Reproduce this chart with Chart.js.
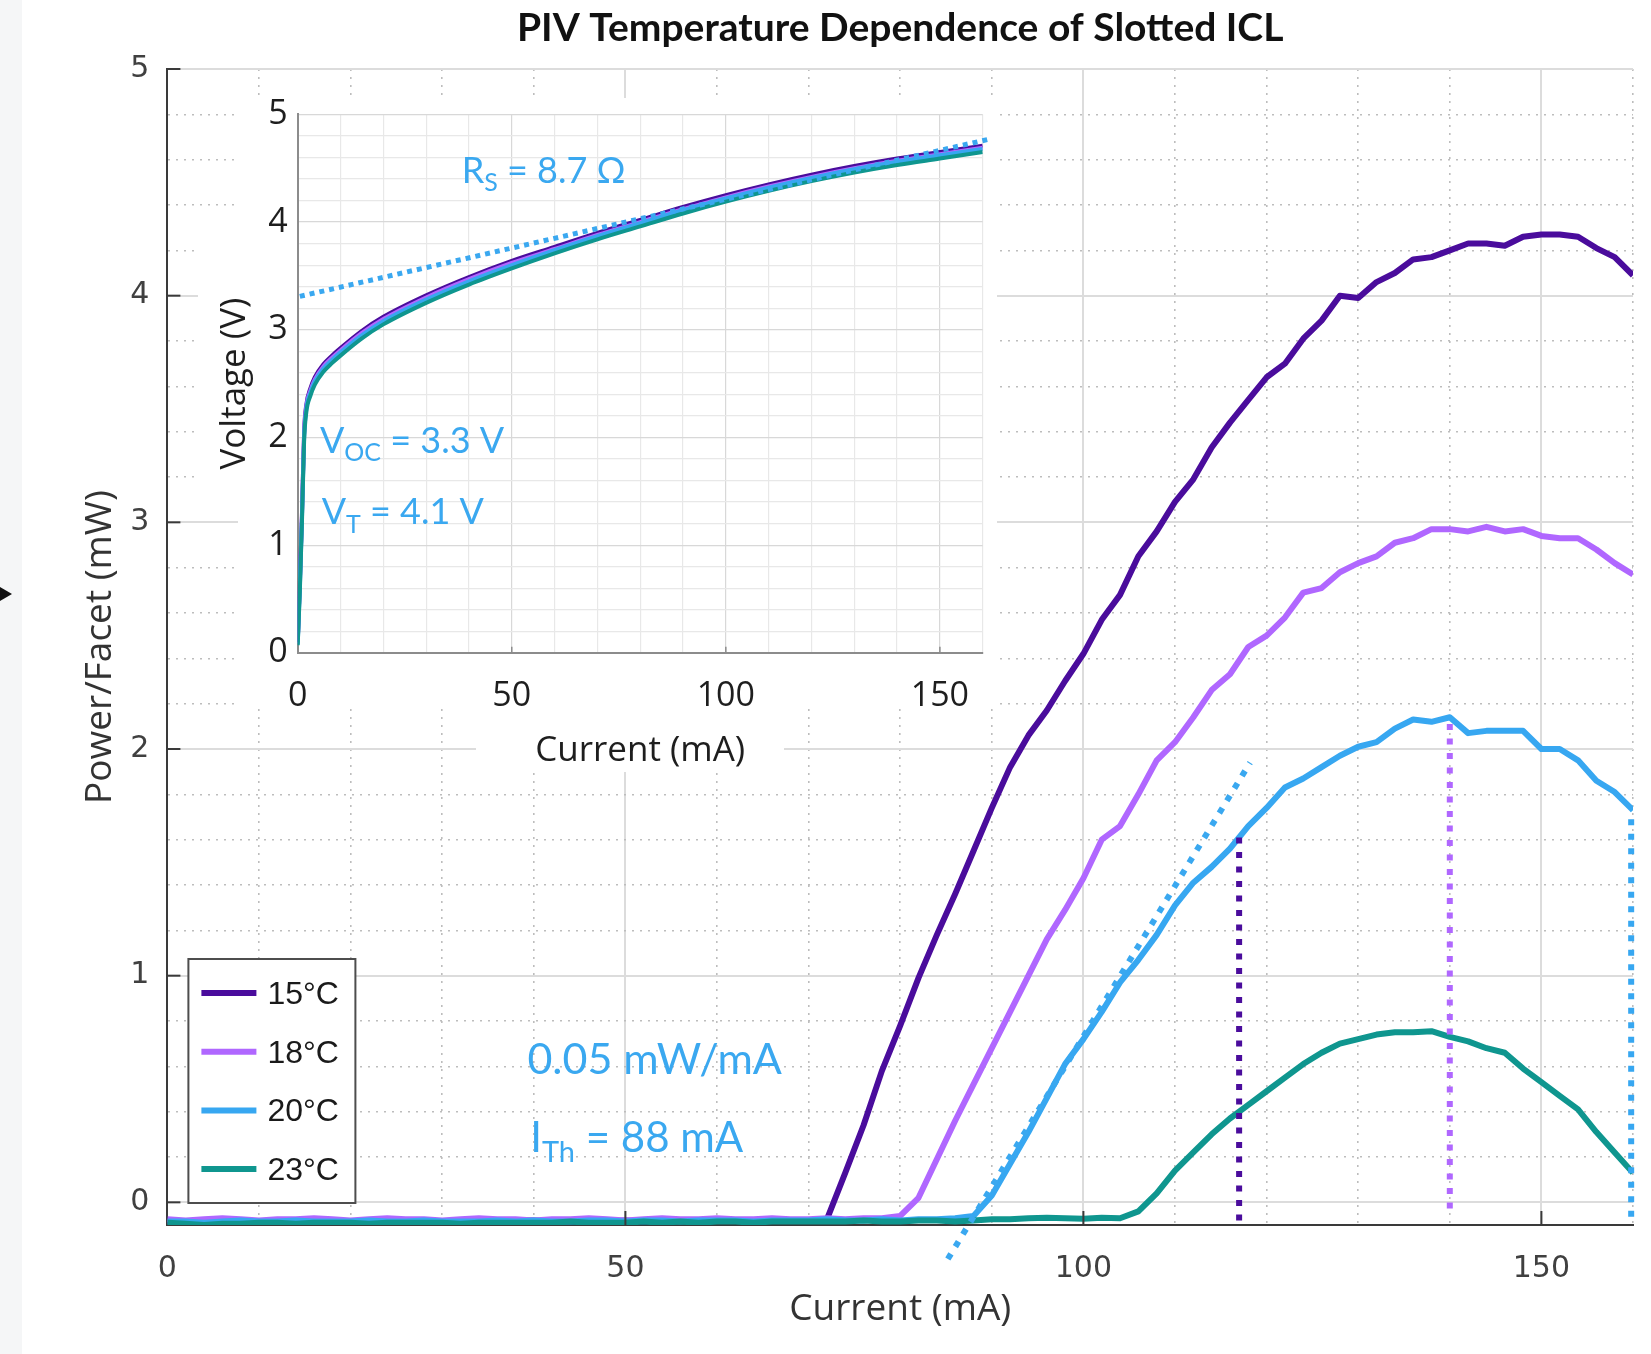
<!DOCTYPE html>
<html>
<head>
<meta charset="utf-8">
<script src="https://cdn.jsdelivr.net/npm/chart.js@4.4.1/dist/chart.umd.min.js"></script>
<style>
  html, body { margin: 0; padding: 0; background: #fff; }
  #wrap { position: relative; width: 1651px; height: 1354px; overflow: hidden; }
  #mainChart { position: absolute; left: 0; top: 0; }
  #insetChart { position: absolute; left: 190px; top: 90px; }
</style>
</head>
<body>
<div id="wrap">
  <canvas id="mainChart" width="1651" height="1354"></canvas>
  <canvas id="insetChart" width="820" height="690"></canvas>
</div>
<script>
// ---- main plot: power per facet vs current ----
const currentMA = [0,2,4,6,8,10,12,14,16,18,20,22,24,26,28,30,32,34,36,38,40,42,44,46,48,50,52,54,56,58,60,62,64,66,68,70,72,74,76,78,80,82,84,86,88,90,92,94,96,98,100,102,104,106,108,110,112,114,116,118,120,122,124,126,128,130,132,134,136,138,140,142,144,146,148,150,152,154,156,158,160];

const power15 = [
  -0.08,-0.085,-0.09,-0.085,-0.08,-0.085,-0.085,-0.08,-0.085,-0.09,
  -0.085,-0.08,-0.085,-0.085,-0.08,-0.085,-0.085,-0.09,-0.085,-0.08,
  -0.08,-0.085,-0.085,-0.08,-0.085,-0.08,-0.085,-0.08,-0.08,-0.085,
  -0.08,-0.08,-0.085,-0.08,-0.08,-0.08,
  -0.075,0.13,0.34,0.58,0.78,0.99,1.18,1.36,1.55,1.74,
  1.92,2.06,2.17,2.30,2.42,2.57,2.68,2.85,2.96,3.09,
  3.19,3.33,3.44,3.54,3.64,3.70,3.81,3.89,4.00,3.99,
  4.06,4.10,4.16,4.17,4.20,4.23,4.23,4.22,4.26,4.27,
  4.27,4.26,4.21,4.17,4.09
];
const power18 = [
  -0.075,-0.08,-0.075,-0.07,-0.075,-0.08,-0.075,-0.075,-0.07,-0.075,
  -0.08,-0.075,-0.07,-0.075,-0.075,-0.08,-0.075,-0.07,-0.075,-0.075,
  -0.08,-0.075,-0.075,-0.07,-0.075,-0.08,-0.075,-0.07,-0.075,-0.075,
  -0.07,-0.075,-0.075,-0.07,-0.075,-0.075,-0.07,-0.075,-0.07,-0.07,
  -0.06,0.02,0.19,0.36,0.52,0.68,0.84,1.00,1.16,1.29,
  1.43,1.60,1.66,1.80,1.95,2.03,2.14,2.26,2.33,2.45,
  2.50,2.58,2.69,2.71,2.78,2.82,2.85,2.91,2.93,2.97,
  2.97,2.96,2.98,2.96,2.97,2.94,2.93,2.93,2.88,2.82,
  2.77
];
const power20 = [
  -0.085,-0.085,-0.09,-0.085,-0.08,-0.085,-0.085,-0.08,-0.085,-0.085,
  -0.085,-0.08,-0.085,-0.085,-0.08,-0.085,-0.085,-0.085,-0.08,-0.085,
  -0.08,-0.085,-0.085,-0.08,-0.08,-0.085,-0.08,-0.08,-0.085,-0.08,
  -0.08,-0.08,-0.085,-0.08,-0.08,-0.08,-0.075,-0.08,-0.08,-0.075,
  -0.08,-0.075,-0.075,-0.07,
  -0.06,0.03,0.17,0.31,0.46,0.61,0.72,0.84,0.97,1.07,
  1.18,1.31,1.41,1.48,1.56,1.66,1.74,1.83,1.87,1.92,
  1.97,2.01,2.03,2.09,2.13,2.12,2.14,2.07,2.08,2.08,
  2.08,2.00,2.00,1.95,1.86,1.81,1.73
];
const power23 = [
  -0.09,-0.095,-0.1,-0.095,-0.095,-0.09,-0.09,-0.095,-0.09,-0.09,
  -0.09,-0.095,-0.09,-0.09,-0.09,-0.09,-0.095,-0.09,-0.09,-0.09,
  -0.09,-0.09,-0.085,-0.09,-0.09,-0.09,-0.085,-0.09,-0.085,-0.09,
  -0.085,-0.085,-0.09,-0.085,-0.085,-0.085,-0.085,-0.085,-0.08,-0.085,
  -0.085,-0.08,-0.08,-0.085,-0.08,-0.075,-0.075,-0.07,-0.068,-0.07,
  -0.072,-0.068,
  -0.07,-0.04,0.04,0.14,0.22,0.30,0.37,0.43,0.49,0.55,
  0.61,0.66,0.70,0.72,0.74,0.75,0.75,0.755,0.73,0.71,
  0.68,0.66,0.59,0.53,0.47,0.41,0.31,0.22,0.13
];

const tempLabels = ['15°C', '18°C', '20°C', '23°C'];
const seriesColors = ['#4a0c9c', '#b067ff', '#37a7f1', '#0f968f'];

// vertical dotted markers (current, top, bottom)
const markerCurrent = [117, 140, 159.8];
const markerTop = [1.61, 2.11, 1.69];
const markerBottom = [-0.1, -0.065, -0.08];
const markerColors = ['#4a0c9c', '#b067ff', '#37a7f1'];

// slope-efficiency fit line
const fitCurrent = [85.2, 118.2];
const fitPower = [-0.25, 1.94];

// ---- inset: voltage vs current ----
const ivCurrent = [0,0.5,1,1.5,2,3,4,6,8,10,15,20,30,40,50,60,70,80,90,100,110,120,130,140,150,160];
const volt15 = [0.10,0.66,1.30,2.06,2.30,2.46,2.56,2.68,2.76,2.83,2.99,3.12,3.32,3.49,3.64,3.77,3.90,4.02,4.14,4.25,4.35,4.44,4.52,4.59,4.65,4.71];
const volt18 = [0.09,0.63,1.27,2.03,2.28,2.44,2.54,2.66,2.74,2.81,2.97,3.10,3.30,3.47,3.62,3.75,3.88,4.00,4.12,4.23,4.33,4.42,4.50,4.57,4.63,4.69];
const volt20 = [0.08,0.60,1.25,2.00,2.26,2.42,2.52,2.64,2.72,2.79,2.95,3.08,3.28,3.45,3.60,3.74,3.87,3.99,4.11,4.22,4.32,4.41,4.49,4.56,4.62,4.68];
const volt23 = [0.07,0.57,1.22,1.97,2.23,2.39,2.49,2.61,2.69,2.76,2.92,3.05,3.25,3.42,3.57,3.71,3.84,3.96,4.08,4.19,4.29,4.38,4.46,4.53,4.59,4.65];

const rsCurrent = [0.5, 161.5];
const rsVolt = [3.31, 4.77];

const noteBlue = '#3aa8f0';

function pts(xs, ys) {
  return xs.map((x, i) => ({ x, y: ys[i] }));
}

function isMult(v, m) {
  return Math.abs(v / m - Math.round(v / m)) < 1e-6;
}

// fixed axis box sizes, no extra edge padding from tick labels
function fixBox(w, h) {
  return s => {
    if (w !== null) s.width = w;
    if (h !== null) s.height = h;
    s.paddingLeft = 0; s.paddingRight = 0; s.paddingTop = 0; s.paddingBottom = 0;
  };
}

// text with subscript parts: [[text, isSub], ...]
function subText(ctx, x, y, parts, size) {
  ctx.textAlign = "left";
  ctx.textBaseline = "alphabetic";
  parts.forEach(([t, sub]) => {
    ctx.font = `${sub ? Math.round(size * 0.7) : size}px Lato`;
    ctx.fillText(t, x, sub ? y + size * 0.24 : y);
    x += ctx.measureText(t).width;
  });
}

const mainDecor = {
  id: "mainDecor",
  beforeDraw(chart) {
    const ctx = chart.ctx;
    ctx.save();
    ctx.fillStyle = "#ffffff";
    ctx.fillRect(0, 0, chart.width, chart.height);
    ctx.fillStyle = "#f5f6f7";
    ctx.fillRect(0, 0, 22, chart.height);
    ctx.fillStyle = "#111";
    ctx.beginPath();
    ctx.moveTo(0, 587);
    ctx.lineTo(12, 594);
    ctx.lineTo(0, 601);
    ctx.closePath();
    ctx.fill();
    ctx.restore();
  },
  afterDatasetsDraw(chart) {
    const { ctx, chartArea: a, scales: { x, y } } = chart;
    ctx.save();

    // inward tick marks
    ctx.strokeStyle = "#3a3a3a";
    ctx.lineWidth = 2;
    [50, 100, 150].forEach(v => {
      const px = x.getPixelForValue(v);
      ctx.beginPath(); ctx.moveTo(px, a.bottom); ctx.lineTo(px, a.bottom - 14); ctx.stroke();
    });
    [0, 1, 2, 3, 4, 5].forEach(v => {
      const py = y.getPixelForValue(v);
      ctx.beginPath(); ctx.moveTo(a.left, py); ctx.lineTo(a.left + 13, py); ctx.stroke();
    });

    // annotations
    ctx.fillStyle = noteBlue;
    subText(ctx, x.getPixelForValue(39.3), y.getPixelForValue(0.568), [["0.05 mW/mA", false]], 43);
    subText(ctx, x.getPixelForValue(39.6), y.getPixelForValue(0.222), [["I", false], ["Th", true], [" = 88 mA", false]], 42);

    // legend
    const bx = a.left + 21, by = a.bottom - 266, bw = 167, bh = 244;
    ctx.fillStyle = "#fff";
    ctx.fillRect(bx, by, bw, bh);
    ctx.strokeStyle = "#4d4d4d";
    ctx.lineWidth = 2;
    ctx.strokeRect(bx, by, bw, bh);
    tempLabels.forEach((t, i) => {
      const ly = by + 34 + i * 58.7;
      ctx.strokeStyle = seriesColors[i];
      ctx.lineWidth = 6;
      ctx.lineCap = "butt";
      ctx.beginPath(); ctx.moveTo(bx + 13, ly); ctx.lineTo(bx + 68, ly); ctx.stroke();
      ctx.fillStyle = "#1a1a1a";
      ctx.font = '32px "Liberation Sans"';
      ctx.textAlign = "left";
      ctx.textBaseline = "middle";
      ctx.fillText(t, bx + 79, ly + 2);
    });
    ctx.restore();
  }
};

const curveSets = [power15, power18, power20, power23].map((p, i) => ({
  label: tempLabels[i],
  data: pts(currentMA, p),
  borderColor: seriesColors[i],
  borderWidth: 6,
  borderJoinStyle: "round",
  pointRadius: 0,
  order: 4 - i
}));

const markerSets = markerCurrent.map((c, i) => ({
  label: "marker" + i,
  data: [{ x: c, y: markerTop[i] }, { x: c, y: markerBottom[i] }],
  borderColor: markerColors[i],
  borderWidth: 6,
  borderDash: [6, 8.5],
  borderCapStyle: "butt",
  pointRadius: 0,
  clip: false,
  order: 0
}));

const fitSet = {
  label: "fit",
  data: pts(fitCurrent, fitPower),
  borderColor: noteBlue,
  borderWidth: 6,
  borderDash: [6, 8.5],
  borderCapStyle: "butt",
  pointRadius: 0,
  clip: false,
  order: 0
};

new Chart(document.getElementById("mainChart"), {
  type: "line",
  data: { datasets: [...markerSets, fitSet, ...curveSets] },
  options: {
    responsive: false,
    animation: false,
    events: [],
    layout: { padding: { left: 0, right: 18, top: 0, bottom: 0 } },
    plugins: {
      legend: { display: false },
      tooltip: { enabled: false },
      title: {
        display: true,
        text: "PIV Temperature Dependence of Slotted ICL",
        fullSize: false,
        color: "#111",
        font: { family: "Lato", weight: "bold", size: 39 },
        padding: { top: 5, bottom: 17.2 }
      }
    },
    scales: {
      x: {
        type: "linear",
        min: 0,
        max: 160,
        ticks: {
          stepSize: 10,
          autoSkip: false,
          maxRotation: 0,
          padding: 26,
          color: "#404040",
          font: { family: "DejaVu Sans", size: 30 },
          callback: v => (isMult(v, 50) ? String(v) : "")
        },
        grid: {
          drawTicks: false,
          color: c => (isMult(c.tick.value, 50) ? "#dcdcdc" : "#bdbdbd"),
          lineWidth: c => (isMult(c.tick.value, 50) ? 2 : 1.6)
        },
        border: {
          color: "#3a3a3a",
          width: 2,
          dash: c => (c.tick && !isMult(c.tick.value, 50) ? [2, 6] : [])
        },
        title: {
          display: true,
          text: "Current (mA)",
          color: "#333",
          font: { family: "Open Sans", size: 37 },
          padding: { top: 0, bottom: 22.8 }
        },
        afterFit: fixBox(null, 129)
      },
      y: {
        type: "linear",
        min: -0.1,
        max: 5,
        ticks: {
          stepSize: 0.2,
          includeBounds: false,
          autoSkip: false,
          padding: 18,
          color: "#404040",
          font: { family: "DejaVu Sans", size: 30 },
          callback: v => (isMult(v, 1) ? String(Math.round(v)) : "")
        },
        grid: {
          drawTicks: false,
          color: c => (isMult(c.tick.value, 1) ? "#dcdcdc" : "#bdbdbd"),
          lineWidth: c => (isMult(c.tick.value, 1) ? 2 : 1.6)
        },
        border: {
          color: "#3a3a3a",
          width: 2,
          dash: c => (c.tick && !isMult(c.tick.value, 1) ? [2, 6] : [])
        },
        title: {
          display: true,
          text: "Power/Facet (mW)",
          color: "#333",
          font: { family: "Open Sans", size: 37 },
          padding: { top: 77.8, bottom: 0 }
        },
        afterFit: fixBox(167.4, null)
      }
    }
  },
  plugins: [mainDecor]
});

// ---- inset ----
const insetDecor = {
  id: "insetDecor",
  beforeDraw(chart) {
    const ctx = chart.ctx;
    ctx.save();
    ctx.fillStyle = "#ffffff";
    ctx.fillRect(48, 8, 759, 608);
    ctx.fillRect(8, 150, 42, 245);
    ctx.fillRect(286, 600, 308, 82);
    ctx.restore();
  },
  afterDatasetsDraw(chart) {
    const { ctx, chartArea: a, scales: { x, y } } = chart;
    ctx.save();
    ctx.strokeStyle = "#8c8c8c";
    ctx.lineWidth = 1.5;
    [50, 100, 150].forEach(v => {
      const px = x.getPixelForValue(v);
      ctx.beginPath(); ctx.moveTo(px, a.bottom); ctx.lineTo(px, a.bottom - 6); ctx.stroke();
    });
    ctx.fillStyle = noteBlue;
    subText(ctx, x.getPixelForValue(38.3), y.getPixelForValue(4.365), [["R", false], ["S", true], [" = 8.7 Ω", false]], 36);
    subText(ctx, x.getPixelForValue(5.2), y.getPixelForValue(1.857), [["V", false], ["OC", true], [" = 3.3 V", false]], 36);
    subText(ctx, x.getPixelForValue(5.6), y.getPixelForValue(1.196), [["V", false], ["T", true], [" = 4.1 V", false]], 36);
    ctx.restore();
  }
};

const ivSets = [volt15, volt18, volt20, volt23].map((v, i) => ({
  label: tempLabels[i],
  data: pts(ivCurrent, v),
  borderColor: seriesColors[i],
  borderWidth: 4,
  cubicInterpolationMode: "monotone",
  pointRadius: 0,
  order: 4 - i
}));

const rsSet = {
  label: "Rs fit",
  data: pts(rsCurrent, rsVolt),
  borderColor: noteBlue,
  borderWidth: 5,
  borderDash: [5, 5],
  borderCapStyle: "butt",
  pointRadius: 0,
  clip: false,
  order: 0
};

new Chart(document.getElementById("insetChart"), {
  type: "line",
  data: { datasets: [rsSet, ...ivSets] },
  options: {
    responsive: false,
    animation: false,
    events: [],
    layout: { padding: { left: 0, right: 27.3, top: 24.4, bottom: 0 } },
    plugins: { legend: { display: false }, tooltip: { enabled: false } },
    scales: {
      x: {
        type: "linear",
        min: 0,
        max: 160,
        ticks: {
          stepSize: 10,
          autoSkip: false,
          maxRotation: 0,
          padding: 23,
          color: "#1e1e1e",
          font: { family: "Open Sans", size: 34 },
          callback: v => (isMult(v, 50) ? String(v) : "")
        },
        grid: {
          drawTicks: false,
          color: c => (isMult(c.tick.value, 50) ? "#d8d8d8" : "#e8e8e8"),
          lineWidth: 1.2
        },
        border: { color: "#8c8c8c", width: 2 },
        title: {
          display: true,
          text: "Current (mA)",
          color: "#1e1e1e",
          font: { family: "Open Sans", size: 35 },
          padding: { top: 0, bottom: 8 }
        },
        afterFit: fixBox(null, 127.2)
      },
      y: {
        type: "linear",
        min: 0,
        max: 5,
        ticks: {
          stepSize: 0.2,
          autoSkip: false,
          padding: 10,
          color: "#1e1e1e",
          font: { family: "Open Sans", size: 34 },
          callback: v => (isMult(v, 1) ? String(Math.round(v)) : "")
        },
        grid: {
          drawTicks: false,
          color: c => (isMult(c.tick.value, 1) ? "#d8d8d8" : "#e8e8e8"),
          lineWidth: 1.2
        },
        border: { color: "#8c8c8c", width: 2 },
        title: {
          display: true,
          text: "Voltage (V)",
          color: "#1e1e1e",
          font: { family: "Open Sans", size: 35 },
          padding: { top: 24, bottom: 0 }
        },
        afterFit: fixBox(107.7, null)
      }
    }
  },
  plugins: [insetDecor]
});
</script>
</body>
</html>
